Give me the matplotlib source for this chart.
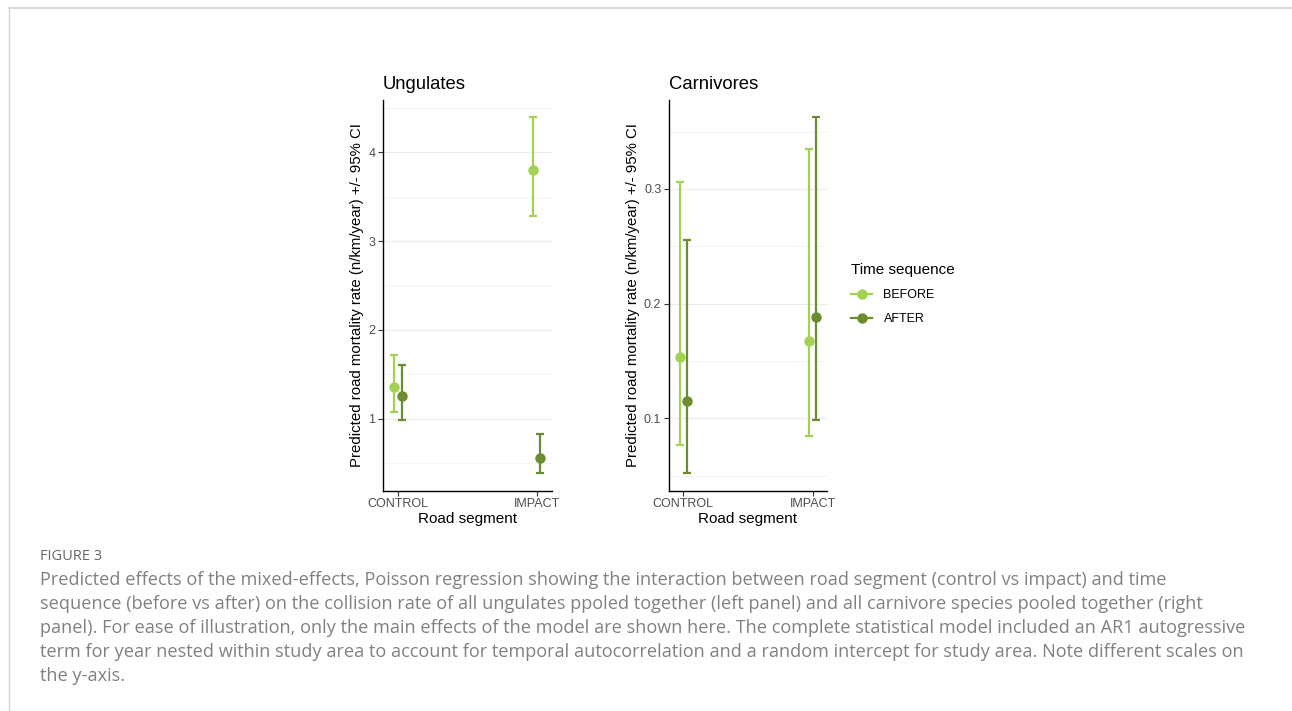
import matplotlib
matplotlib.use("Agg")
import matplotlib.pyplot as plt
from matplotlib.lines import Line2D
import numpy as np

plt.rcParams['font.family'] = ['Liberation Sans', 'DejaVu Sans']

# ---------------- data ----------------
segments = ['CONTROL', 'IMPACT']
sequences = ['BEFORE', 'AFTER']
colors = {'BEFORE': '#a3d154', 'AFTER': '#6c8c31'}

# ungulates: estimate, lower CI, upper CI  (per segment)
ung_before = [1.36, 3.80]
ung_before_lo = [1.075, 3.285]
ung_before_hi = [1.714, 4.40]
ung_after = [1.256, 0.56]
ung_after_lo = [0.99, 0.385]
ung_after_hi = [1.61, 0.824]

# carnivores
car_before = [0.1532, 0.1677]
car_before_lo = [0.077, 0.0843]
car_before_hi = [0.306, 0.335]
car_after = [0.1151, 0.1886]
car_after_lo = [0.052, 0.0985]
car_after_hi = [0.2557, 0.3624]

caption_head = "FIGURE 3"
caption_lines = [
    "Predicted effects of the mixed-effects, Poisson regression showing the interaction between road segment (control vs impact) and time",
    "sequence (before vs after) on the collision rate of all ungulates ppoled together (left panel) and all carnivore species pooled together (right",
    "panel). For ease of illustration, only the main effects of the model are shown here. The complete statistical model included an AR1 autogressive",
    "term for year nested within study area to account for temporal autocorrelation and a random intercept for study area. Note different scales on",
    "the y-axis.",
]

W, H = 1292, 711
fig = plt.figure(figsize=(W / 100, H / 100), dpi=100)


def px_axes(x0, y0, x1, y1):
    return fig.add_axes([x0 / W, 1 - y1 / H, (x1 - x0) / W, (y1 - y0) / H])


def panel(ax, title, before, blo, bhi, after, alo, ahi, ylim, major, minor):
    x = np.arange(len(segments))
    dodge = 0.027
    for name, est, lo, hi, off in [('BEFORE', before, blo, bhi, -dodge),
                                   ('AFTER', after, alo, ahi, dodge)]:
        est = np.array(est)
        err = [est - np.array(lo), np.array(hi) - est]
        ax.errorbar(x + off, est, yerr=err, fmt='o', color=colors[name],
                    ms=6.5, elinewidth=1.6, capsize=3, capthick=1.6, zorder=3)
    ax.set_xlim(-0.108, 1.11)
    ax.set_ylim(*ylim)
    ax.set_xticks(x)
    ax.set_xticklabels(segments)
    ax.set_yticks(major)
    ax.set_yticks(minor, minor=True)
    ax.grid(True, which='major', axis='y', color='#ebebeb', lw=0.8, zorder=0)
    ax.grid(True, which='minor', axis='y', color='#f2f2f2', lw=0.6, zorder=0)
    ax.tick_params(which='major', length=3.5, width=0.8, color='#333333',
                   labelcolor='#4d4d4d', labelsize=9, pad=2)
    ax.tick_params(which='minor', length=0)
    for s in ['top', 'right']:
        ax.spines[s].set_visible(False)
    for s in ['left', 'bottom']:
        ax.spines[s].set_linewidth(1.0)
        ax.spines[s].set_color('black')
    ax.set_xlabel('Road segment', fontsize=11, labelpad=1)
    ax.set_ylabel('Predicted road mortality rate (n/km/year) +/- 95% CI', fontsize=10.8, labelpad=3)
    ax.set_title(title, loc='left', fontsize=13.3, pad=8)


ax1 = px_axes(383, 100, 552, 490.7)
panel(ax1, 'Ungulates', ung_before, ung_before_lo, ung_before_hi,
      ung_after, ung_after_lo, ung_after_hi,
      (0.189, 4.589), [1, 2, 3, 4], [0.5, 1.5, 2.5, 3.5, 4.5])

ax2 = px_axes(669, 100, 827, 490.7)
panel(ax2, 'Carnivores', car_before, car_before_lo, car_before_hi,
      car_after, car_after_lo, car_after_hi,
      (0.0369, 0.3776), [0.1, 0.2, 0.3], [0.05, 0.15, 0.25, 0.35])

handles = [Line2D([], [], color=colors[s], marker='o', ms=6.5, lw=1.6) for s in sequences]
leg = fig.legend(handles, sequences, title='Time sequence', loc='upper left',
                 bbox_to_anchor=(841 / W, 1 - 253 / H), frameon=False,
                 fontsize=9, title_fontsize=11, handlelength=1.7,
                 handletextpad=0.9, labelspacing=0.95, borderaxespad=0.4)
leg._legend_box.align = 'left'
leg._legend_box.sep = 9

# caption
fig.text(40 / W, 1 - 557 / H, caption_head, fontsize=10.5, color='#666666',
         va='center', family='Open Sans')
for i, line in enumerate(caption_lines):
    fig.text(40 / W, 1 - (580 + 24 * i) / H, line, fontsize=13.1, color='#808080',
             va='center', family='Open Sans')

# page frame lines
fig.add_artist(Line2D([9 / W, 1], [1 - 8 / H, 1 - 8 / H], color='#d4d4d4', lw=1.2))
fig.add_artist(Line2D([9 / W, 9 / W], [0, 1 - 8 / H], color='#d4d4d4', lw=1.0))

fig.savefig('out.png', dpi=100)
